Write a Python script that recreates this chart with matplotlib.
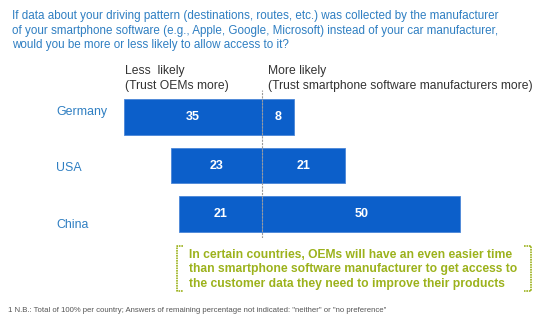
import matplotlib.pyplot as plt

plt.rcParams['font.family'] = ['Liberation Sans', 'DejaVu Sans']

# survey shares per country (%)
countries = ["Germany", "USA", "China"]
less_likely = [35, 23, 21]   # trust OEMs more
more_likely = [8, 21, 50]    # trust smartphone software makers more

blue_txt = "#2f7fc2"
bar_col = "#0c5fca"
green = "#9cb21c"

W, H = 539, 322
fig = plt.figure(figsize=(W / 100, H / 100), dpi=100)

# bar axes placed in pixel terms; zero line sits at x=262 px
px_per_unit = 3.96
x0_px = 262.3
ax_l, ax_r = 100, 500
ax_t, ax_b = 90, 238
ax = fig.add_axes([ax_l / W, 1 - ax_b / H, (ax_r - ax_l) / W, (ax_b - ax_t) / H])
ax.set_xlim((ax_l - x0_px) / px_per_unit, (ax_r - x0_px) / px_per_unit)
row_px = 48.5
first_px = 117.2
ax.set_ylim((ax_b - first_px) / row_px, (ax_t - first_px) / row_px)
ax.axis("off")

y = list(range(len(countries)))
neg = [-v for v in less_likely]
ax.barh(y, neg, height=0.73, color=bar_col, edgecolor="#4a86d8", linewidth=0.6)
ax.barh(y, more_likely, height=0.73, color=bar_col, edgecolor="#4a86d8", linewidth=0.6)
ax.axvline(0, color="#9a9a9a", lw=0.8, ls=(0, (2, 1)))

for i in y:
    ax.text(-less_likely[i] / 2, i, str(less_likely[i]), color="white",
            fontsize=9, fontweight="bold", ha="center", va="center")
    ax.text(more_likely[i] / 2, i, str(more_likely[i]), color="white",
            fontsize=9, fontweight="bold", ha="center", va="center")

label_shift = [-0.1, 0.04, 0.22]
for i, c in enumerate(countries):
    ax.text((56 - x0_px) / px_per_unit, i + label_shift[i], c, color=blue_txt,
            fontsize=8.9, ha="left", va="center", clip_on=False)

# question heading
fig.text(12 / W, 1 - 10.5 / H,
         "If data about your driving pattern (destinations, routes, etc.) was collected by the manufacturer\n"
         "of your smartphone software (e.g., Apple, Google, Microsoft) instead of your car manufacturer,\n"
         "would you be more or less likely to allow access to it?",
         color=blue_txt, fontsize=8.4, ha="left", va="top", linespacing=1.24)

fig.text(125 / W, 1 - 65 / H, "Less  likely\n(Trust OEMs more)", color="#333333",
         fontsize=8.7, ha="left", va="top", linespacing=1.3)
fig.text(268 / W, 1 - 65 / H,
         "More likely\n(Trust smartphone software manufacturers more)", color="#333333",
         fontsize=8.7, ha="left", va="top", linespacing=1.3)

# callout with brackets
fig.text(189 / W, 1 - 249 / H,
         "In certain countries, OEMs will have an even easier time\n"
         "than smartphone software manufacturer to get access to\n"
         "the customer data they need to improve their products",
         color=green, fontsize=8.7, fontweight="bold", ha="left", va="top",
         linespacing=1.27)
bt, bb = 1 - 245.5 / H, 1 - 291 / H
fig.add_artist(plt.Line2D([183 / W, 177 / W, 177 / W, 183 / W], [bt, bt, bb, bb],
                          color=green, lw=1.2, ls=(0, (1, 0.5))))
fig.add_artist(plt.Line2D([524 / W, 530.5 / W, 530.5 / W, 524 / W], [bt, bt, bb, bb],
                          color=green, lw=1.2, ls=(0, (1, 0.5))))

fig.text(8 / W, 1 - 311 / H,
         '1 N.B.: Total of 100% per country; Answers of remaining percentage not indicated: "neither" or "no preference"',
         color="#555555", fontsize=5.6, ha="left", va="center")

fig.savefig("out.png", dpi=100)
